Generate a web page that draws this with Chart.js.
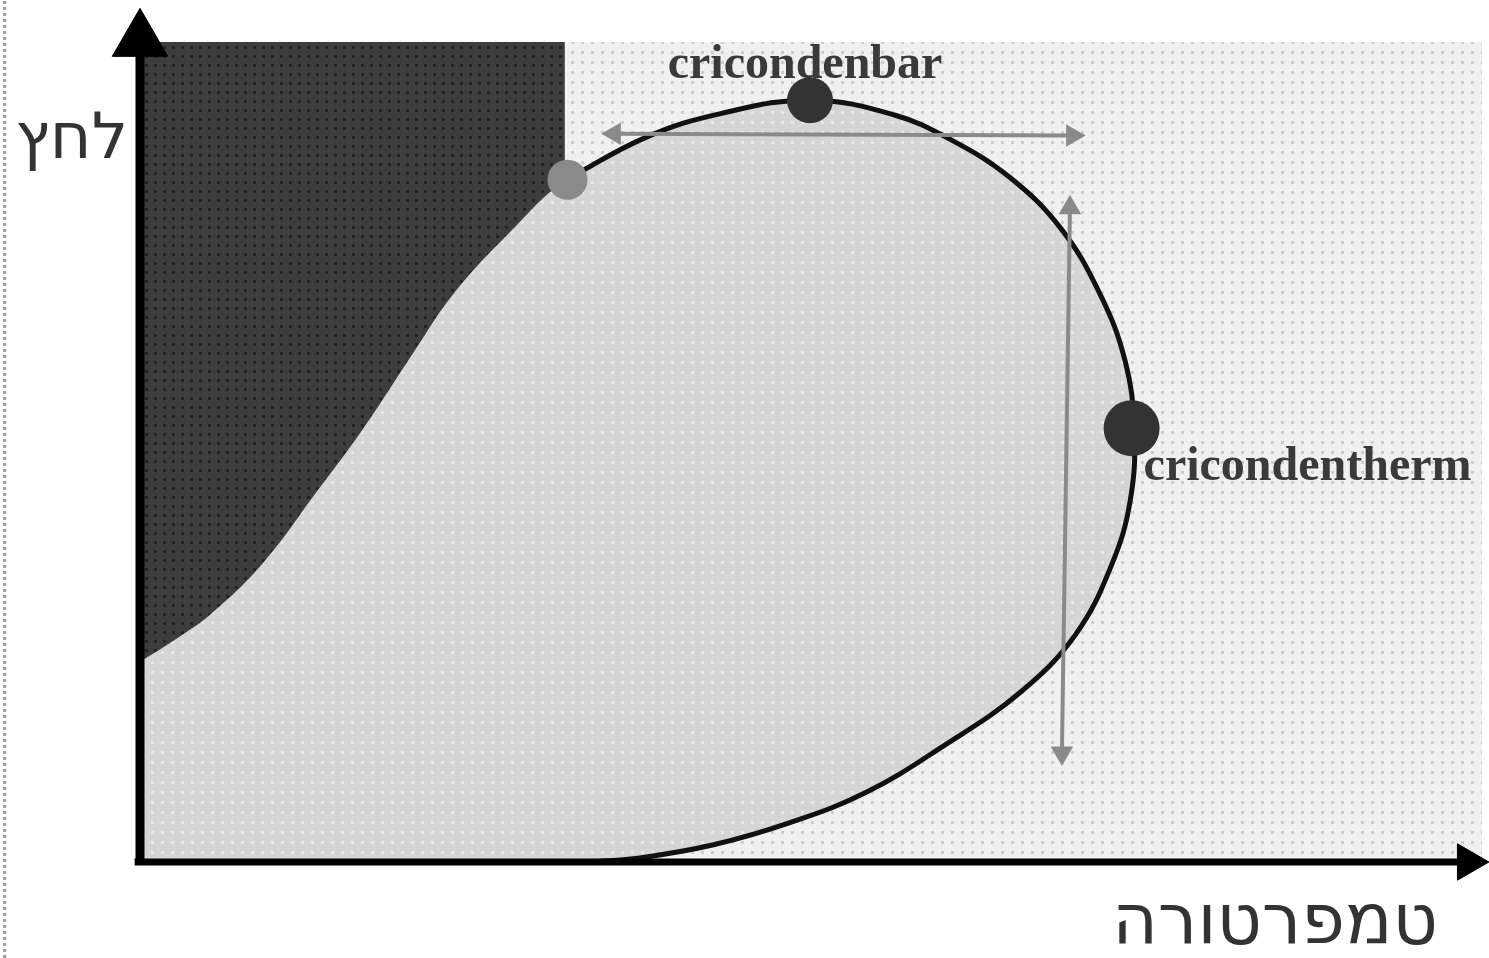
<!DOCTYPE html>
<html>
<head>
<meta charset="utf-8">
<script src="https://cdn.jsdelivr.net/npm/chart.js@4"></script>
<style>
  html, body { margin: 0; padding: 0; background: #ffffff; }
  canvas { display: block; }
</style>
</head>
<body>
<canvas id="phase" width="1489" height="958"></canvas>
<script>
// boundary between the dark region and the two-phase envelope (no line drawn);
// the first two points sit just left of the P axis so the curve meets it smoothly
const tempBoundary = [-3.0, -3.0, 0, 2.6, 5.4, 9.2, 12.9, 16.6, 20.4, 23.5, 27.6];
const pressBoundary = [0, 21.2, 24.4, 27.1, 30.4, 36.5, 44.5, 52.7, 62.1, 69.5, 76.8];

// black envelope curve, from the critical point over the top and down to the T axis
const tempEnvelope = [31.8, 37.8, 43.4, 50.0, 56.3, 60.6, 64.9, 68.7, 71.6, 73.5, 74.2, 73.9, 72.5,
                      69.8, 65.7, 60.0, 54.2, 48.5, 42.8, 37.3, 33.6];
const pressEnvelope = [83.2, 88.4, 91.3, 92.9, 91.1, 88.0, 83.5, 77.3, 69.4, 61.2, 52.7, 44.1, 36.2,
                       27.7, 20.7, 14.2, 8.5, 4.8, 2.1, 0.5, 0];

// dark (liquid) block in the upper left
const tempDark = [0, 0, 31.7, 31.7];
const pressDark = [0, 100, 100, 0];

// marked points: critical, cricondenbar, cricondentherm
const keyNames = ["critical", "cricondenbar", "cricondentherm"];
const keyTemp = [31.9, 50.0, 74.0];
const keyPress = [83.2, 92.9, 52.9];

// double arrows
const barArrowTemp = [35.4, 69.6];
const barArrowPress = [88.8, 88.6];
const thermArrowTemp = [69.4, 68.8];
const thermArrowPress = [79.8, 13.3];

// axes
const yAxisTemp = [0, 0];
const yAxisPress = [0, 99];
const xAxisTemp = [-0.4, 98.6];
const xAxisPress = [0, 0];
const axisHeadTemp = [0, 99.1];
const axisHeadPress = [100.2, 0];

// scan border on the far left
const edgeTemp = [-10.1, -10.1];
const edgePress = [-11.7, 105];

const xLabel = "טמפרטורה";
const yLabel = "לחץ";

function pts(xs, ys) {
    return xs.map((x, i) => ({ x: x, y: ys[i] }));
}

function makePattern(bg, dot, step, size) {
    const c = document.createElement("canvas");
    c.width = step;
    c.height = step;
    const g = c.getContext("2d");
    g.fillStyle = bg;
    g.fillRect(0, 0, step, step);
    g.fillStyle = dot;
    g.fillRect(1, 1, size, size);
    return g.createPattern(c, "repeat");
}

const lightFill = makePattern("#f0f0f0", "#cdcdcd", 10, 3);
const envelopeFill = makePattern("#d5d5d5", "#e8e8e8", 10, 3);
const darkFill = makePattern("#3d3d3d", "#232323", 9, 3);

const envelopePoints = pts(tempBoundary, pressBoundary)
    .concat(pts(tempEnvelope, pressEnvelope));

const backgroundPlugin = {
    id: "plotBackground",
    beforeDatasetsDraw(chart) {
        const { ctx, chartArea } = chart;
        ctx.save();
        ctx.fillStyle = lightFill;
        ctx.fillRect(chartArea.left, chartArea.top, chartArea.right - chartArea.left + 2,
                     chartArea.bottom - chartArea.top);
        ctx.restore();
    }
};

const labelPlugin = {
    id: "phaseLabels",
    afterDatasetsDraw(chart) {
        const { ctx } = chart;
        const x = chart.scales.x;
        const y = chart.scales.y;
        ctx.save();
        ctx.fillStyle = "#3a3a3a";
        ctx.font = "bold 48px 'Liberation Serif'";
        ctx.textAlign = "center";
        ctx.textBaseline = "alphabetic";
        ctx.fillText(keyNames[1], x.getPixelForValue(keyTemp[1]) - 5, y.getPixelForValue(keyPress[1]) - 22);
        ctx.textAlign = "left";
        ctx.fillText(keyNames[2], x.getPixelForValue(keyTemp[2]) + 12, y.getPixelForValue(keyPress[2]) + 52);

        ctx.fillStyle = "#333333";
        ctx.font = "64px 'DejaVu Sans'";
        ctx.textAlign = "right";
        ctx.fillText(yLabel, 128, 158);
        ctx.font = "70px 'DejaVu Sans'";
        ctx.fillText(xLabel, 1438, 943);
        ctx.restore();
    }
};

const ctx = document.getElementById("phase");

const graph = new Chart(ctx, {
    type: "scatter",
    data: {
        datasets: [
            {
                // axis arrowheads
                data: pts(axisHeadTemp, axisHeadPress),
                showLine: false,
                pointStyle: "triangle",
                pointRadius: [32, 21],
                pointRotation: [0, 90],
                pointBackgroundColor: "#000000",
                pointBorderColor: "#000000",
                pointBorderWidth: 1,
                clip: false,
                order: 0
            },
            {
                data: pts(yAxisTemp, yAxisPress),
                showLine: true,
                borderColor: "#000000",
                borderWidth: 9,
                pointRadius: 0,
                clip: false,
                order: 1
            },
            {
                data: pts(xAxisTemp, xAxisPress),
                showLine: true,
                borderColor: "#000000",
                borderWidth: 7,
                pointRadius: 0,
                clip: false,
                order: 1
            },
            {
                // key points
                data: pts(keyTemp, keyPress),
                showLine: false,
                pointStyle: "circle",
                pointRadius: [20, 23, 28],
                pointBackgroundColor: ["#8a8a8a", "#333333", "#333333"],
                pointBorderColor: ["#8a8a8a", "#333333", "#333333"],
                pointBorderWidth: 0,
                clip: false,
                order: 2
            },
            {
                data: pts(barArrowTemp, barArrowPress),
                showLine: true,
                borderColor: "#8a8a8a",
                borderWidth: 4,
                pointStyle: "triangle",
                pointRadius: 9,
                pointRotation: [-90, 90],
                pointBackgroundColor: "#8a8a8a",
                pointBorderColor: "#8a8a8a",
                clip: false,
                order: 3
            },
            {
                data: pts(thermArrowTemp, thermArrowPress),
                showLine: true,
                borderColor: "#8a8a8a",
                borderWidth: 4,
                pointStyle: "triangle",
                pointRadius: 9,
                pointRotation: [0, 180],
                pointBackgroundColor: "#8a8a8a",
                pointBorderColor: "#8a8a8a",
                clip: false,
                order: 3
            },
            {
                // black envelope line
                data: pts(tempEnvelope, pressEnvelope),
                showLine: true,
                borderColor: "#111111",
                borderWidth: 5,
                tension: 0.4,
                pointRadius: 0,
                clip: 0,
                order: 4
            },
            {
                // two-phase envelope fill
                data: envelopePoints,
                showLine: true,
                borderWidth: 0,
                borderColor: "rgba(0,0,0,0)",
                backgroundColor: envelopeFill,
                fill: "shape",
                tension: 0.4,
                pointRadius: 0,
                clip: 0,
                order: 5
            },
            {
                data: pts(tempDark, pressDark),
                showLine: true,
                borderWidth: 0,
                borderColor: "rgba(0,0,0,0)",
                backgroundColor: darkFill,
                fill: "shape",
                tension: 0,
                pointRadius: 0,
                clip: 0,
                order: 6
            },
            {
                data: pts(edgeTemp, edgePress),
                showLine: true,
                borderColor: "#9a9a9a",
                borderWidth: 3,
                borderDash: [3, 3],
                pointRadius: 0,
                clip: false,
                order: 7
            }
        ]
    },
    options: {
        responsive: false,
        animation: false,
        layout: {
            autoPadding: false,
            padding: { left: 140, right: 9, top: 42, bottom: 96 }
        },
        scales: {
            x: { type: "linear", min: 0, max: 100, display: false },
            y: { type: "linear", min: 0, max: 100, display: false }
        },
        plugins: {
            legend: { display: false },
            tooltip: { enabled: false }
        }
    },
    plugins: [backgroundPlugin, labelPlugin]
});
</script>
</body>
</html>
